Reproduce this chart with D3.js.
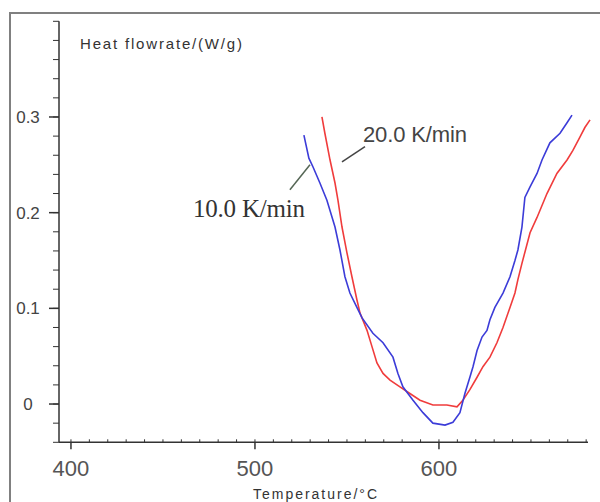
<!DOCTYPE html>
<html lang="en">
<head>
  <meta charset="UTF-8">
  <title>DSC curves</title>
  <script src="https://d3js.org/d3.v7.min.js"></script>
  <style>
    body { margin: 0; background: #fff; }
  </style>
</head>
<body>
<script>
  // heating rate 10 K/min : [temperature, heat flow]
  const tBlue = [526.6, 529.3, 531.5, 535.3, 539.1, 543.5, 546.2, 548.9, 551.6, 555.4, 558.2,
    564.1, 569.6, 575.0, 577.7, 580.4, 585.9, 591.3, 596.7, 603.3, 607.6, 611.4, 614.1, 616.8, 618.5, 620.7,
    623.4, 626.1, 627.7, 630.4, 634.8, 638.6, 641.3, 642.9, 645.1, 646.7, 649.5, 653.3, 656.0, 660.3, 665.8,
    669.6, 672.3];
  const vBlue = [0.281, 0.257, 0.248, 0.231, 0.213, 0.185, 0.161, 0.133, 0.116, 0.101, 0.090,
    0.074, 0.064, 0.049, 0.032, 0.018, 0.004, -0.009, -0.020, -0.022, -0.019, -0.009, 0.011, 0.028, 0.039, 0.056,
    0.070, 0.077, 0.088, 0.101, 0.116, 0.133, 0.150, 0.161, 0.185, 0.216, 0.227, 0.241, 0.255, 0.273, 0.283,
    0.294, 0.302];

  // heating rate 20 K/min
  const tRed = [536.4, 538.0, 540.8, 543.5, 545.1, 547.3, 550.0, 552.7, 555.4, 557.1, 560.9, 563.6,
    566.3, 569.6, 573.4, 578.8, 584.2, 589.7, 596.7, 604.3, 609.8, 613.0, 616.8, 620.7, 623.9, 627.7, 631.5,
    634.8, 638.6, 641.3, 642.9, 645.1, 649.5, 653.3, 658.7, 664.1, 669.6, 672.8, 676.6, 679.3, 682.1];
  const vRed = [0.300, 0.283, 0.255, 0.231, 0.213, 0.185, 0.158, 0.133, 0.109, 0.095, 0.077, 0.060,
    0.043, 0.032, 0.025, 0.018, 0.011, 0.004, -0.001, -0.001, -0.003, 0.004, 0.015, 0.028, 0.039, 0.049, 0.064,
    0.080, 0.101, 0.116, 0.130, 0.147, 0.179, 0.195, 0.220, 0.241, 0.255, 0.265, 0.279, 0.289, 0.297];

  const xTicks = [400, 500, 600];
  const yTicks = [0, 0.1, 0.2, 0.3];

  const blue = tBlue.map((t, i) => ({x: t, y: vBlue[i]}));
  const red = tRed.map((t, i) => ({x: t, y: vRed[i]}));

  const width = 600;
  const height = 502;

  const svg = d3.select("body")
    .append("svg")
    .attr("width", width)
    .attr("height", height);

  // outer frame
  svg.append("rect")
    .attr("x", 10).attr("y", 13)
    .attr("width", 600).attr("height", 500)
    .attr("fill", "none")
    .attr("stroke", "#808080")
    .attr("stroke-width", 2);

  const x = d3.scaleLinear()
    .domain([393.5, 681])
    .range([59, 588]);

  const y = d3.scaleLinear()
    .domain([-0.04, 0.4])
    .range([442.3, 21.3]);

  // X axis
  const xAxis = svg.append("g")
    .attr("transform", "translate(0," + y(-0.04) + ")");

  xAxis.append("line")
    .attr("x1", x.range()[0]).attr("x2", x.range()[1])
    .attr("stroke", "#333").attr("stroke-width", 1.5);

  xAxis.selectAll(".minor")
    .data(d3.range(400, 681, 10))
    .join("line")
    .attr("x1", d => x(d)).attr("x2", d => x(d))
    .attr("y1", 0).attr("y2", -3)
    .attr("stroke", "#333");

  xAxis.selectAll(".major")
    .data(xTicks)
    .join("line")
    .attr("x1", d => x(d)).attr("x2", d => x(d))
    .attr("y1", 0).attr("y2", 7)
    .attr("stroke", "#333").attr("stroke-width", 1.5);

  xAxis.selectAll("text")
    .data(xTicks)
    .join("text")
    .attr("x", d => x(d))
    .attr("y", 34)
    .attr("text-anchor", "middle")
    .attr("font-family", "Liberation Sans, Arial, sans-serif")
    .attr("font-size", 22)
    .attr("fill", "#555")
    .text(d => d);

  // Y axis
  const yAxis = svg.append("g")
    .attr("transform", "translate(" + x(393.5) + ",0)");

  yAxis.append("line")
    .attr("y1", y.range()[0]).attr("y2", y.range()[1])
    .attr("stroke", "#333").attr("stroke-width", 1.5);

  yAxis.selectAll(".minor")
    .data(d3.range(-0.04, 0.401, 0.02))
    .join("line")
    .attr("y1", d => y(d)).attr("y2", d => y(d))
    .attr("x1", 0).attr("x2", -6)
    .attr("stroke", "#333");

  yAxis.selectAll(".major")
    .data(yTicks)
    .join("line")
    .attr("y1", d => y(d)).attr("y2", d => y(d))
    .attr("x1", 0).attr("x2", -10)
    .attr("stroke", "#333").attr("stroke-width", 1.5);

  yAxis.selectAll("text")
    .data(yTicks)
    .join("text")
    .attr("x", -31)
    .attr("y", d => y(d) + 6)
    .attr("text-anchor", "middle")
    .attr("font-family", "Liberation Sans, Arial, sans-serif")
    .attr("font-size", 17)
    .attr("fill", "#444")
    .text(d => d === 0 ? "0" : d3.format(".1f")(d));

  // axis titles
  svg.append("text")
    .attr("x", 80).attr("y", 49)
    .attr("font-family", "Liberation Sans, Arial, sans-serif")
    .attr("font-size", 15)
    .attr("textLength", 162)
    .attr("fill", "#333")
    .text("Heat flowrate/(W/g)");

  svg.append("text")
    .attr("x", 253).attr("y", 499)
    .attr("font-family", "Liberation Sans, Arial, sans-serif")
    .attr("font-size", 14)
    .attr("textLength", 124)
    .attr("fill", "#333")
    .text("Temperature/°C");

  // curves
  const line = d3.line()
    .x(d => x(d.x))
    .y(d => y(d.y));

  svg.append("path")
    .datum(red)
    .attr("fill", "none")
    .attr("stroke", "#f03c3c")
    .attr("stroke-width", 1.6)
    .attr("d", line);

  svg.append("path")
    .datum(blue)
    .attr("fill", "none")
    .attr("stroke", "#3c3cd8")
    .attr("stroke-width", 1.6)
    .attr("d", line);

  // annotations
  svg.append("line")
    .attr("x1", x(519.0)).attr("y1", y(0.224))
    .attr("x2", x(529.9)).attr("y2", y(0.250))
    .attr("stroke", "#556655").attr("stroke-width", 1.5);

  svg.append("line")
    .attr("x1", x(547.3)).attr("y1", y(0.253))
    .attr("x2", x(559.8)).attr("y2", y(0.269))
    .attr("stroke", "#444").attr("stroke-width", 1.5);

  svg.append("text")
    .attr("x", x(466.3)).attr("y", y(0.195))
    .attr("font-family", "Liberation Serif, Times New Roman, serif")
    .attr("font-size", 25)
    .attr("textLength", 112)
    .attr("fill", "#333")
    .text("10.0 K/min");

  svg.append("text")
    .attr("x", x(558.7)).attr("y", y(0.274))
    .attr("font-family", "Liberation Sans, Arial, sans-serif")
    .attr("font-size", 22)
    .attr("textLength", 104)
    .attr("fill", "#444")
    .text("20.0 K/min");
</script>
</body>
</html>
